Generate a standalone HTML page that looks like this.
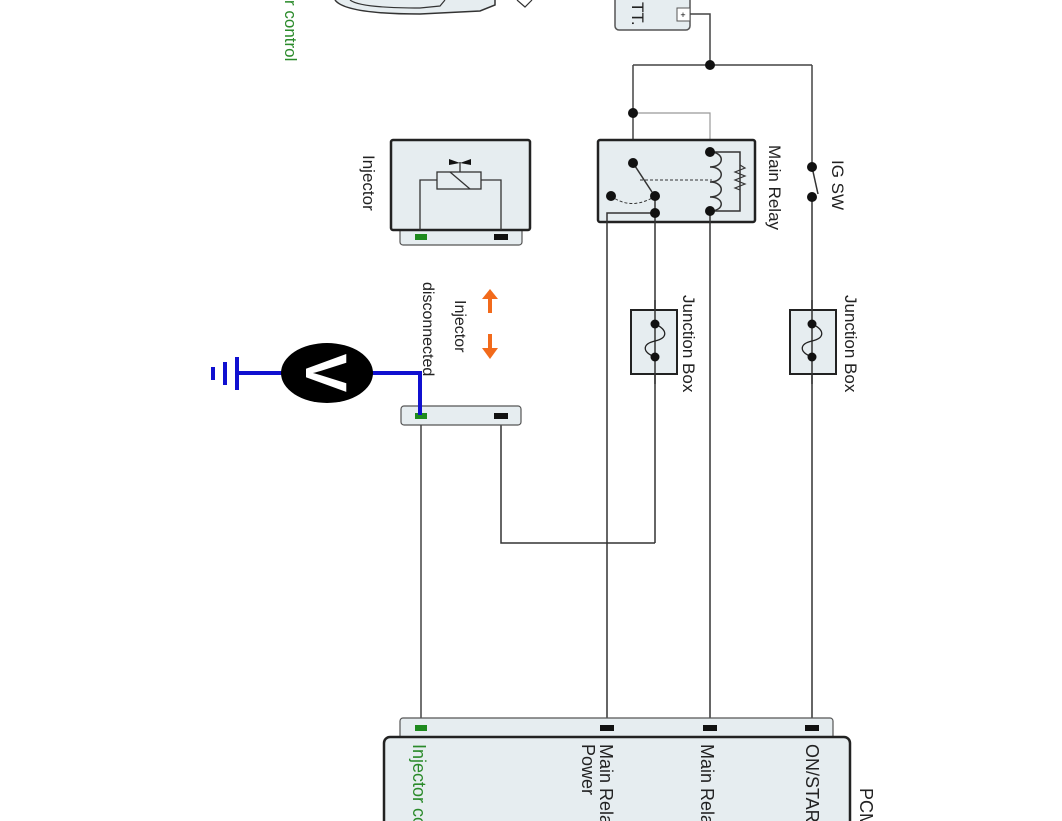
<!DOCTYPE html>
<html><head><meta charset="utf-8"><style>
html,body{margin:0;padding:0;background:#fff;}
svg{display:block;font-family:"Liberation Sans",sans-serif;}
</style></head><body>
<svg width="1062" height="821" viewBox="0 0 1062 821" xmlns="http://www.w3.org/2000/svg">
<text transform="translate(285,0) rotate(90)" font-size="17" fill="#2a8a2a">r control</text>
<path d="M335,0 Q345,14 420,14 L480,11 L495,5 L495,0" fill="#e6edf0" stroke="#333" stroke-width="1.5"/>
<path d="M350,0 Q360,8 420,8 L440,6 L445,0" fill="none" stroke="#333" stroke-width="1.2"/>
<path d="M517,0 L525,7 L532,0" fill="none" stroke="#333" stroke-width="1.2"/>

<rect x="615" y="-10" width="75" height="40" rx="4" fill="#e6edf0" stroke="#555" stroke-width="1.5"/>
<rect x="677" y="8" width="13" height="13" fill="#fff" stroke="#555"/>
<text x="683" y="18" font-size="9" text-anchor="middle">+</text>
<text transform="translate(632,2) rotate(90)" font-size="17" fill="#222">TT.</text>

<g stroke="#444" stroke-width="1.5" fill="none">
<polyline points="690,14 710,14 710,65"/>
<line x1="633" y1="65" x2="812" y2="65"/>
<line x1="633" y1="65" x2="633" y2="163"/>
<line x1="812" y1="65" x2="812" y2="167"/>
</g>
<polyline points="633,113 710,113 710,152" stroke="#999" stroke-width="1.2" fill="none"/>

<rect x="598" y="140" width="157" height="82" rx="2" fill="#e6edf0" stroke="#222" stroke-width="2.5"/>
<g stroke="#333" stroke-width="1.5" fill="none">
<line x1="633" y1="163" x2="652" y2="192"/>
<line x1="640" y1="180" x2="712" y2="180" stroke-dasharray="3,2" stroke-width="1"/>
<path d="M611,196 Q630,210 652,198" stroke-dasharray="3,2" stroke-width="1"/>
<polyline points="607,730 607,213 655,213"/>
<line x1="655" y1="196" x2="655" y2="543"/>
<polyline points="655,543 501,543 501,416"/>
<line x1="710" y1="211" x2="710" y2="728"/>
<polyline points="710,152 740,152 740,211 710,211"/>
<path d="M710,152 C725,152 725,167 710,167 C725,167 725,182 710,182 C725,182 725,197 710,197 C725,197 725,211 710,211"/>
<polyline points="740,165 745,168 735,172 745,176 735,180 745,184 735,188 740,190" stroke-width="1.2"/>
</g>
<g fill="#111">
<circle cx="710" cy="65" r="5"/>
<circle cx="633" cy="113" r="5"/>
<circle cx="633" cy="163" r="5"/>
<circle cx="611" cy="196" r="5"/>
<circle cx="655" cy="196" r="5"/>
<circle cx="655" cy="213" r="5"/>
<circle cx="710" cy="152" r="5"/>
<circle cx="710" cy="211" r="5"/>
</g>
<text transform="translate(769,145) rotate(90)" font-size="17" fill="#222">Main Relay</text>

<g stroke="#333" stroke-width="1.5" fill="none">
<line x1="812" y1="167" x2="818" y2="194"/>
<line x1="812" y1="197" x2="812" y2="728"/>
</g>
<circle cx="812" cy="167" r="5" fill="#111"/>
<circle cx="812" cy="197" r="5" fill="#111"/>
<text transform="translate(832,160) rotate(90)" font-size="17" fill="#222">IG SW</text>

<g>
<rect x="631" y="310" width="46" height="64" fill="#e6edf0" stroke="#222" stroke-width="2"/>
<line x1="655" y1="300" x2="655" y2="384" stroke="#333" stroke-width="1.5"/>
<path d="M655,324 C668,330 668,338 655,341 C642,344 642,352 655,357" fill="none" stroke="#222" stroke-width="1.3"/>
<circle cx="655" cy="324" r="4.5" fill="#111"/><circle cx="655" cy="357" r="4.5" fill="#111"/>
<text transform="translate(683,295) rotate(90)" font-size="17" fill="#222">Junction Box</text>
</g>
<g>
<rect x="790" y="310" width="46" height="64" fill="#e6edf0" stroke="#222" stroke-width="2"/>
<line x1="812" y1="300" x2="812" y2="384" stroke="#333" stroke-width="1.5"/>
<path d="M812,324 C825,330 825,338 812,341 C799,344 799,352 812,357" fill="none" stroke="#222" stroke-width="1.3"/>
<circle cx="812" cy="324" r="4.5" fill="#111"/><circle cx="812" cy="357" r="4.5" fill="#111"/>
<text transform="translate(845,295) rotate(90)" font-size="17" fill="#222">Junction Box</text>
</g>

<rect x="400" y="225" width="122" height="20" rx="3" fill="#e6edf0" stroke="#555" stroke-width="1.2"/>
<rect x="391" y="140" width="139" height="90" rx="2" fill="#e6edf0" stroke="#222" stroke-width="2.5"/>
<rect x="415" y="234" width="12" height="6" fill="#1e8a1e"/>
<rect x="494" y="234" width="14" height="6" fill="#111"/>
<g stroke="#333" stroke-width="1.3" fill="none">
<polyline points="420,230 420,180 437,180"/>
<polyline points="501,230 501,180 481,180"/>
<rect x="437" y="172" width="44" height="17" fill="#e6edf0"/>
<line x1="450" y1="172" x2="470" y2="189"/>
<line x1="460" y1="172" x2="460" y2="162"/>
</g>
<path d="M449,159 L460,163 L471,159 L471,165 L460,163 L449,165Z" fill="#111"/>
<text transform="translate(363,155) rotate(90)" font-size="17" fill="#222">Injector</text>

<g fill="#f26a1b" stroke="#f26a1b">
<line x1="490" y1="296" x2="490" y2="313" stroke-width="4"/>
<path d="M482,299 L490,289 L498,299Z" stroke="none"/>
<line x1="490" y1="334" x2="490" y2="351" stroke-width="4"/>
<path d="M482,348 L490,359 L498,348Z" stroke="none"/>
</g>
<text transform="translate(455,300) rotate(90)" font-size="16" fill="#222">Injector</text>
<text transform="translate(423,282) rotate(90)" font-size="16" fill="#222">disconnected</text>

<rect x="401" y="406" width="120" height="19" rx="3" fill="#e6edf0" stroke="#555" stroke-width="1.2"/>
<rect x="415" y="413" width="12" height="6" fill="#1e8a1e"/>
<rect x="494" y="413" width="14" height="6" fill="#111"/>
<line x1="421" y1="425" x2="421" y2="728" stroke="#444" stroke-width="1.5"/>

<polyline points="420,415 420,373 370,373" stroke="#1010d0" stroke-width="4" fill="none"/>
<line x1="285" y1="373" x2="237" y2="373" stroke="#1010d0" stroke-width="4"/>
<g stroke="#1010d0" stroke-width="4">
<line x1="237" y1="357" x2="237" y2="390"/>
<line x1="225" y1="362" x2="225" y2="385"/>
<line x1="213" y1="367" x2="213" y2="380"/>
</g>
<ellipse cx="327" cy="373" rx="46" ry="30" fill="#000"/>
<text transform="translate(327,373) rotate(90)" font-size="58" font-weight="bold" fill="#fff" text-anchor="middle" dy="21">V</text>

<rect x="400" y="718" width="433" height="30" rx="3" fill="#e6edf0" stroke="#555" stroke-width="1.2"/>
<rect x="384" y="737" width="466" height="100" rx="6" fill="#e6edf0" stroke="#222" stroke-width="2.5"/>
<rect x="415" y="725" width="12" height="6" fill="#1e8a1e"/>
<rect x="600" y="725" width="14" height="6" fill="#111"/>
<rect x="703" y="725" width="14" height="6" fill="#111"/>
<rect x="805" y="725" width="14" height="6" fill="#111"/>
<text transform="translate(413,744) rotate(90)" font-size="18" fill="#2a8a2a">Injector control</text>
<text transform="translate(600,744) rotate(90)" font-size="18" fill="#222">Main Relay</text>
<text transform="translate(582,744) rotate(90)" font-size="18" fill="#222">Power</text>
<text transform="translate(701,744) rotate(90)" font-size="18" fill="#222">Main Relay</text>
<text transform="translate(806,744) rotate(90)" font-size="18" fill="#222">ON/START</text>
<text transform="translate(860,788) rotate(90)" font-size="18" fill="#222">PCM</text>
</svg>
</body></html>
